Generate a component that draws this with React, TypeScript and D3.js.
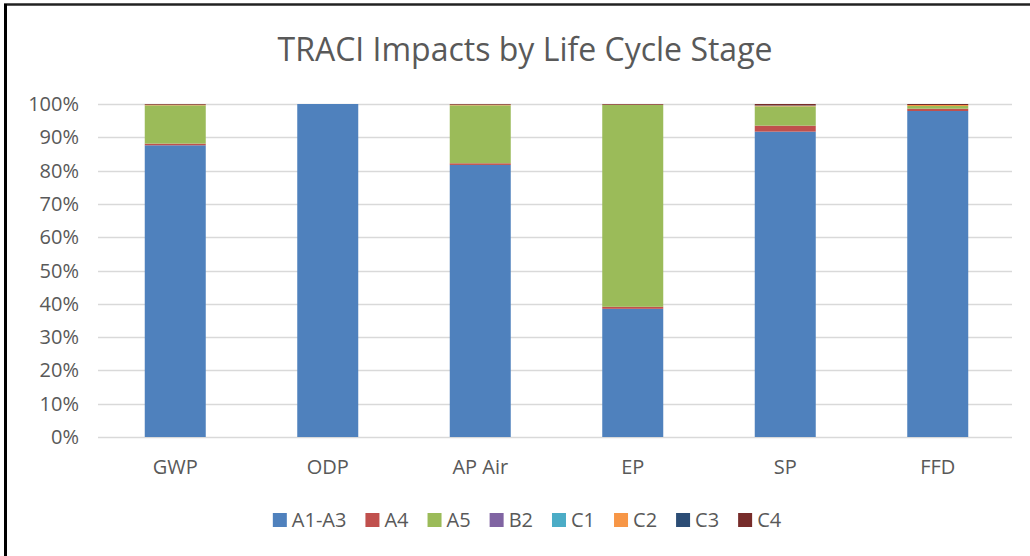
import React, { useEffect, useRef } from "react";
import * as d3 from "d3";

const categories = ["GWP", "ODP", "AP Air", "EP", "SP", "FFD"];
const stages = ["A1-A3", "A4", "A5", "B2", "C1", "C2", "C3", "C4"];
const colors = ["#4f81bd", "#c0504d", "#9bbb59", "#8064a2", "#4bacc6", "#f79646", "#2c4d75", "#772c2a"];

// percent share of each stage per impact category
const a1a3 = [87.6, 100.0, 81.7, 38.5, 91.7, 97.9];
const a4 = [0.5, 0.0, 0.5, 0.6, 1.8, 0.7];
const a5 = [11.5, 0.0, 17.4, 60.6, 5.8, 0.8];
const b2 = [0.0, 0.0, 0.0, 0.0, 0.0, 0.0];
const c1 = [0.0, 0.0, 0.0, 0.0, 0.0, 0.0];
const c2 = [0.2, 0.0, 0.2, 0.1, 0.2, 0.3];
const c3 = [0.0, 0.0, 0.0, 0.0, 0.1, 0.0];
const c4 = [0.2, 0.0, 0.2, 0.2, 0.4, 0.3];

const yTicks = [0, 10, 20, 30, 40, 50, 60, 70, 80, 90, 100];

export default function App() {
  const svgRef = useRef(null);

  useEffect(() => {
    document.body.style.margin = "0";
    if (!svgRef.current) return;
    const width = 1030;
    const height = 556;
    const font = "'Open Sans', 'Noto Sans', sans-serif";
    const textColor = "#595959";

    const svg = d3.select(svgRef.current);
    svg.selectAll("*").remove();

    // outer frame (top and left visible)
    svg.append("rect").attr("width", width).attr("height", height).attr("fill", "#fff");
    svg.append("line").attr("x1", 4).attr("x2", width).attr("y1", 4.5).attr("y2", 4.5)
      .attr("stroke", "#222").attr("stroke-width", 2.5);
    svg.append("line").attr("x1", 5.5).attr("x2", 5.5).attr("y1", 4).attr("y2", height)
      .attr("stroke", "#000").attr("stroke-width", 3);

    svg.append("text")
      .attr("x", 525).attr("y", 61)
      .attr("text-anchor", "middle")
      .attr("font-family", font).attr("font-size", 32)
      .attr("fill", textColor)
      .text("TRACI Impacts by Life Cycle Stage");

    const x = d3.scaleBand().domain(categories).range([99, 1014]).paddingInner(0.6).paddingOuter(0.3);
    const y = d3.scaleLinear().domain([0, 100]).range([437, 104]);

    const grid = svg.append("g");
    grid.selectAll("line").data(yTicks).join("line")
      .attr("x1", 98).attr("x2", 1012)
      .attr("y1", (d) => Math.round(y(d)) + 0.5).attr("y2", (d) => Math.round(y(d)) + 0.5)
      .attr("stroke", "#d9d9d9").attr("stroke-width", 1.3);

    svg.append("g").selectAll("text").data(yTicks).join("text")
      .attr("x", 79).attr("y", (d) => y(d) + 7)
      .attr("text-anchor", "end")
      .attr("font-family", font).attr("font-size", 20)
      .attr("fill", textColor)
      .text((d) => d + "%");

    const rows = categories.map((c, i) => {
      const r = { cat: c };
      const series = [a1a3, a4, a5, b2, c1, c2, c3, c4];
      stages.forEach((s, j) => (r[s] = series[j][i]));
      return r;
    });
    const stacked = d3.stack().keys(stages).offset(d3.stackOffsetExpand)(rows);

    svg.append("g").selectAll("g").data(stacked).join("g")
      .attr("fill", (d, i) => colors[i])
      .selectAll("rect").data((d) => d).join("rect")
      .attr("x", (d) => x(d.data.cat))
      .attr("width", x.bandwidth())
      .attr("y", (d) => y(d[1] * 100))
      .attr("height", (d) => Math.max(0, y(d[0] * 100) - y(d[1] * 100)));

    svg.append("g").selectAll("text").data(categories).join("text")
      .attr("x", (d) => x(d) + x.bandwidth() / 2).attr("y", 474)
      .attr("text-anchor", "middle")
      .attr("font-family", font).attr("font-size", 20)
      .attr("fill", textColor)
      .text((d) => d);

    // legend
    const legend = svg.append("g");
    const items = legend.selectAll("g").data(stages).join("g");
    items.append("rect").attr("width", 14).attr("height", 14).attr("y", 513)
      .attr("fill", (d, i) => colors[i]);
    items.append("text").attr("x", 19).attr("y", 527)
      .attr("font-family", font).attr("font-size", 20)
      .attr("fill", textColor)
      .text((d) => d);
    let cx = 0;
    const offsets = [];
    items.each(function () {
      const w = (d3.select(this).select("text").node() as SVGTextElement).getComputedTextLength();
      offsets.push(cx);
      cx += 19 + w + 19;
    });
    const total = cx - 19;
    const start = 527 - total / 2;
    items.attr("transform", (d, i) => `translate(${start + offsets[i]},0)`);
  }, []);

  return <svg ref={svgRef} width={1030} height={556} style={{ display: "block" }} />;
}
